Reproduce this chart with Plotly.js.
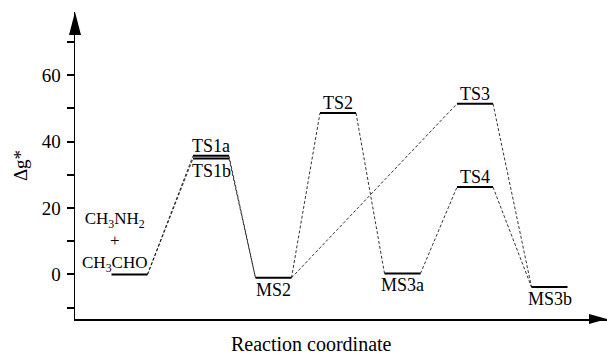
<!DOCTYPE html>
<html>
<head>
<meta charset="utf-8">
<script src="https://cdn.plot.ly/plotly-3.0.1.min.js"></script>
<style>html,body{margin:0;padding:0;background:#fff;}#chart{width:607px;height:356px;}</style>
</head>
<body>
<div id="chart"></div>
<script>
// Stationary points on the reaction profile
const stages   = ['R', 'TS1a', 'TS1b', 'MS2', 'TS2', 'MS3a', 'TS3', 'TS4', 'MS3b'];
const energies = [0, 35.7, 34.9, -1.0, 48.6, 0.3, 51.4, 26.3, -3.8];
// reaction-coordinate position of each stage
const stagePos = [5.45, 13.6, 13.6, 19.85, 26.3, 32.75, 40.0, 40.0, 47.45];
// level labels
const labelText = ['CH<sub>3</sub>NH<sub>2</sub><br>+<br>CH<sub>3</sub>CHO', 'TS1a', 'TS1b', 'MS2', 'TS2', 'MS3a', 'TS3', 'TS4', 'MS3b'];
const labelSide = ['reactant', 'above', 'below', 'below', 'above', 'below', 'above', 'above', 'below'];
// dashed connections between stages [from, to]
const links = [[0,1],[0,2],[1,3],[2,3],[3,4],[4,5],[3,6],[6,8],[5,7],[7,8]];
// y axis ticks
const yTicks = [0, 20, 40, 60];

const halfW = 1.8;
const serif = '"Times New Roman", "Liberation Serif", "DejaVu Serif", serif';

const lx = [], ly = [];
stages.forEach((s, i) => {
  lx.push(stagePos[i] - halfW, stagePos[i] + halfW, null);
  ly.push(energies[i], energies[i], null);
});
const cx = [], cy = [];
links.forEach(([a, b]) => {
  cx.push(stagePos[a] + halfW, stagePos[b] - halfW, null);
  cy.push(energies[a], energies[b], null);
});

const traces = [
  {x: cx, y: cy, mode: 'lines', line: {color: '#000', width: 0.8, dash: '3px,2px'}, hoverinfo: 'skip', showlegend: false},
  {x: lx, y: ly, mode: 'lines', line: {color: '#000', width: 2}, hoverinfo: 'skip', showlegend: false}
];

const annotations = stages.map((s, i) => {
  const side = labelSide[i];
  const a = {x: stagePos[i], y: energies[i], xref: 'x', yref: 'y', text: labelText[i],
    showarrow: false, font: {family: serif, size: 18, color: '#000'}};
  if (side === 'above') { a.yanchor = 'bottom'; a.yshift = -2; }
  else if (side === 'below') { a.yanchor = 'top'; a.yshift = 0; }
  else { a.yanchor = 'bottom'; a.xshift = -15; a.yshift = -3; a.font.size = 17; }
  return a;
});
annotations.push({x: 0.445, y: 0, xref: 'paper', yref: 'paper', yanchor: 'top', yshift: -12,
  text: 'Reaction coordinate', showarrow: false, font: {family: serif, size: 20, color: '#000'}});

const layout = {
  width: 607, height: 356,
  margin: {l: 75, r: 0, t: 12, b: 37},
  paper_bgcolor: '#fff', plot_bgcolor: '#fff',
  font: {family: serif, color: '#000'},
  xaxis: {range: [0, 53.2], showline: true, linecolor: '#000', linewidth: 1.5, showgrid: false,
    zeroline: false, showticklabels: false, ticks: ''},
  yaxis: {range: [-13.4, 79], showline: true, linecolor: '#000', linewidth: 1.5, showgrid: false,
    zeroline: false, tickvals: yTicks, ticks: 'outside', ticklen: 7, tickwidth: 2, tickcolor: '#000',
    ticklabelstandoff: 2,
    minor: {dtick: 10, tick0: 0, ticks: 'outside', ticklen: 7, tickwidth: 2, tickcolor: '#000'},
    tickfont: {family: serif, size: 19, color: '#000'},
    title: {text: 'Δg*', font: {family: serif, size: 19, color: '#000'}}},
  shapes: [
    {type: 'path', xref: 'paper', yref: 'paper', xsizemode: 'pixel', ysizemode: 'pixel',
     xanchor: 0, yanchor: 1, path: 'M0,0 L-6,-23 L6,-23 Z', fillcolor: '#000', line: {width: 0}},
    {type: 'path', xref: 'paper', yref: 'paper', xsizemode: 'pixel', ysizemode: 'pixel',
     xanchor: 1, yanchor: 0, path: 'M0,0 L-18,5 L-18,-5 Z', fillcolor: '#000', line: {width: 0}}
  ],
  annotations: annotations
};

Plotly.newPlot('chart', traces, layout, {staticPlot: true});
</script>
</body>
</html>
